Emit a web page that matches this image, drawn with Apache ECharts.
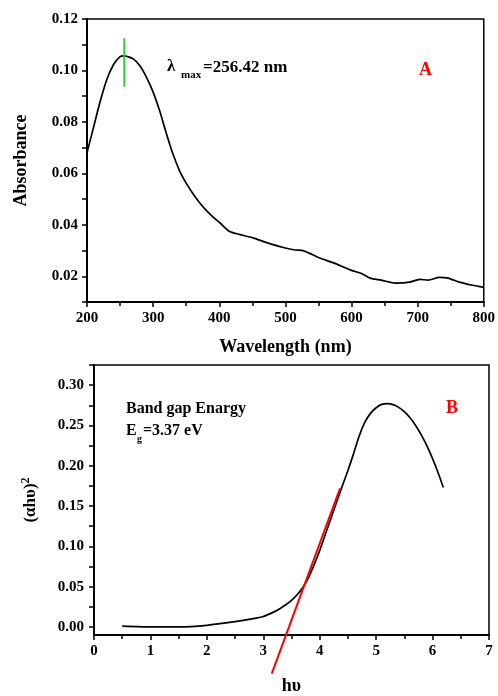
<!DOCTYPE html>
<html>
<head>
<meta charset="utf-8">
<script src="https://cdn.jsdelivr.net/npm/echarts@6/dist/echarts.min.js"></script>
<style>html,body{margin:0;padding:0;background:#fff;}#c{width:498px;height:696px;}</style>
</head>
<body>
<div id="c"></div>
<script>
// Panel A: UV-Vis absorbance
const wavelength = [200,210,220,230,240,250,256,260,270,280,290,300,310,320,330,340,350,360,370,380,390,400,415,430,450,475,500,515,525,550,575,600,615,628,645,668,688,703,716,733,746,763,783,800];
const absorbance = [0.068,0.078,0.088,0.0965,0.1022,0.1054,0.1057,0.1055,0.1045,0.1018,0.0973,0.0916,0.0842,0.0755,0.0675,0.061,0.0562,0.0522,0.0487,0.0457,0.0432,0.041,0.0375,0.0363,0.035,0.0328,0.031,0.0302,0.0301,0.0273,0.025,0.0223,0.0211,0.0193,0.0185,0.0173,0.0177,0.0188,0.0185,0.0196,0.0193,0.0177,0.0165,0.0157];
const lambdaMaxX = [256.42, 256.42];
const lambdaMaxY = [0.0937, 0.1125];
const absLabelTicks = [0.02,0.04,0.06,0.08,0.10,0.12];
const absAllTicks = [0.01,0.02,0.03,0.04,0.05,0.06,0.07,0.08,0.09,0.10,0.11,0.12];

// Panel B: Tauc plot
const photonEnergy = [0.5,1.0,1.5,2.0,2.5,2.8,3.0,3.2,3.3,3.4,3.5,3.6,3.7,3.8,3.9,4.0,4.1,4.2,4.3,4.4,4.5,4.6,4.7,4.8,4.9,5.0,5.1,5.2,5.3,5.4,5.5,5.6,5.7,5.8,5.9,6.0,6.1,6.19];
const alphaHv2 = [0.001,0.0,0.0,0.002,0.0065,0.010,0.013,0.019,0.023,0.0275,0.033,0.040,0.049,0.061,0.077,0.095,0.115,0.135,0.155,0.175,0.194,0.215,0.237,0.254,0.265,0.272,0.2762,0.277,0.2758,0.2724,0.267,0.2595,0.250,0.2383,0.2246,0.2088,0.191,0.173];
const tangentX = [3.15, 4.36];
const tangentY = [-0.058, 0.172];
const tbLabelTicks = [0,0.05,0.10,0.15,0.20,0.25,0.30];
const tbAllTicks = [0,0.025,0.05,0.075,0.10,0.125,0.15,0.175,0.20,0.225,0.25,0.275,0.30,0.325];

const FF = '"Liberation Serif", "Times New Roman", serif';
const zip = (a, b) => a.map((v, i) => [v, b[i]]);

const labelStyle = {color:'#000', fontFamily: FF, fontWeight:'bold', fontSize: 15};
const axisLine = {show:true, onZero:false, lineStyle:{color:'#000', width:2}};
const tick = {show:true, length:5, lineStyle:{color:'#000', width:1.5}};

const chart = echarts.init(document.getElementById('c'), null, {renderer:'canvas'});
chart.setOption({
  animation: false,
  backgroundColor: '#fff',
  grid: [
    {left:87, top:19, width:401, height:283, show:true, borderColor:'#000', borderWidth:1.5, backgroundColor:'transparent'},
    {left:94, top:365, width:395, height:280, show:true, borderColor:'#000', borderWidth:1.5, backgroundColor:'transparent'}
  ],
  xAxis: [
    {type:'value', gridIndex:0, min:200, max:800, interval:100,
     axisLine, axisTick: tick, minorTick:{show:true, splitNumber:2, length:4, lineStyle:{color:'#000', width:1.5}},
     splitLine:{show:false}, minorSplitLine:{show:false},
     axisLabel: Object.assign({margin:9}, labelStyle),
     name:'Wavelength (nm)', nameLocation:'middle', nameGap:36,
     nameTextStyle:{color:'#000', fontFamily:FF, fontWeight:'bold', fontSize:18}},
    {type:'value', gridIndex:1, min:0, max:7, interval:1,
     axisLine, axisTick: tick, minorTick:{show:true, splitNumber:2, length:4, lineStyle:{color:'#000', width:1.5}},
     splitLine:{show:false}, minorSplitLine:{show:false},
     axisLabel: Object.assign({margin:9}, labelStyle),
     name:'hυ', nameLocation:'middle', nameGap:42,
     nameTextStyle:{color:'#000', fontFamily:FF, fontWeight:'bold', fontSize:18}}
  ],
  yAxis: [
    {type:'value', gridIndex:0, min:0.01, max:0.12,
     axisLine, splitLine:{show:false},
     axisTick: Object.assign({customValues: absAllTicks}, tick),
     axisLabel: Object.assign({margin:9, customValues: absLabelTicks, formatter: v => v.toFixed(2)}, labelStyle),
     name:'Absorbance', nameLocation:'middle', nameGap:57,
     nameTextStyle:{color:'#000', fontFamily:FF, fontWeight:'bold', fontSize:18}},
    {type:'value', gridIndex:1, min:-0.01, max:0.325,
     axisLine, splitLine:{show:false},
     axisTick: Object.assign({customValues: tbAllTicks}, tick),
     axisLabel: Object.assign({margin:10, customValues: tbLabelTicks, formatter: v => v.toFixed(2)}, labelStyle),
     name:'(αhυ){sup|2}', nameLocation:'middle', nameGap:52,
     nameTextStyle:{color:'#000', fontFamily:FF, fontWeight:'bold', fontSize:17,
       rich:{sup:{fontFamily:FF, fontSize:12, verticalAlign:'top', padding:[0,0,10,0]}}}}
  ],
  series: [
    {type:'line', xAxisIndex:0, yAxisIndex:0, data: zip(wavelength, absorbance), showSymbol:false, smooth:0.25,
     lineStyle:{color:'#000', width:1.7}},
    {type:'line', xAxisIndex:0, yAxisIndex:0, data: zip(lambdaMaxX, lambdaMaxY), showSymbol:false,
     lineStyle:{color:'#2ecc2e', width:2}},
    {type:'line', xAxisIndex:1, yAxisIndex:1, data: zip(photonEnergy, alphaHv2), showSymbol:false, smooth:0.2,
     lineStyle:{color:'#000', width:1.7}},
    {type:'line', xAxisIndex:1, yAxisIndex:1, data: zip(tangentX, tangentY), showSymbol:false, clip:false,
     lineStyle:{color:'#ff0000', width:2}, z:3}
  ],
  graphic: [
    {type:'text', left:167, top:58, style:{text:'λ', font:'bold 17px '+FF, fill:'#000'}},
    {type:'text', left:181, top:70, style:{text:'max', font:'bold 11px '+FF, fill:'#000'}},
    {type:'text', left:203, top:59, style:{text:'=256.42 nm', font:'bold 17px '+FF, fill:'#000'}},
    {type:'text', left:419, top:61, style:{text:'A', font:'bold 18px '+FF, fill:'#ff0000'}},
    {type:'text', left:126, top:401, style:{text:'Band gap Enargy', font:'bold 16px '+FF, fill:'#000'}},
    {type:'text', left:126, top:423, style:{text:'E', font:'bold 16px '+FF, fill:'#000'}},
    {type:'text', left:137, top:434, style:{text:'g', font:'bold 10px '+FF, fill:'#000'}},
    {type:'text', left:143, top:423, style:{text:'=3.37 eV', font:'bold 16px '+FF, fill:'#000'}},
    {type:'text', left:446, top:399, style:{text:'B', font:'bold 18px '+FF, fill:'#ff0000'}}
  ]
});
</script>
</body>
</html>
